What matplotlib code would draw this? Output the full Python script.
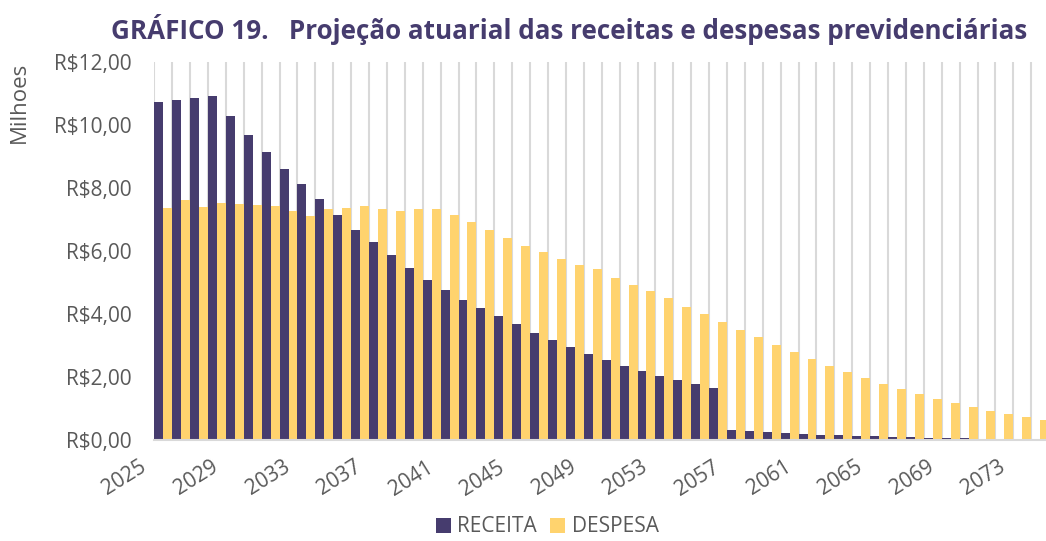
import numpy as np
import matplotlib.pyplot as plt
from matplotlib.transforms import ScaledTranslation

anos = list(range(2025, 2075))

receita = [10.73, 10.78, 10.86, 10.92, 10.29, 9.68, 9.13, 8.61, 8.14, 7.65,
           7.15, 6.68, 6.29, 5.88, 5.46, 5.08, 4.76, 4.45, 4.18, 3.93,
           3.67, 3.41, 3.17, 2.95, 2.73, 2.55, 2.36, 2.19, 2.04, 1.89,
           1.77, 1.64, 0.33, 0.29, 0.25, 0.21, 0.19, 0.17, 0.15, 0.13,
           0.12, 0.10, 0.09, 0.07, 0.06, 0.05, 0.04, 0.03, 0.03, 0.02]

despesa = [7.37, 7.62, 7.40, 7.51, 7.49, 7.47, 7.43, 7.27, 7.12, 7.33,
           7.37, 7.43, 7.33, 7.26, 7.33, 7.33, 7.14, 6.91, 6.67, 6.40,
           6.16, 5.97, 5.75, 5.55, 5.42, 5.15, 4.93, 4.74, 4.50, 4.22,
           4.00, 3.74, 3.49, 3.26, 3.02, 2.80, 2.56, 2.35, 2.16, 1.96,
           1.77, 1.61, 1.45, 1.30, 1.16, 1.04, 0.93, 0.84, 0.74, 0.64]

y_ticks = [0, 2, 4, 6, 8, 10, 12]
y_labels = ['R$0,00', 'R$2,00', 'R$4,00', 'R$6,00', 'R$8,00', 'R$10,00', 'R$12,00']

cor_receita = '#463C6E'
cor_despesa = '#FFD36E'
cinza = '#595959'

plt.rcParams['font.family'] = ['Open Sans', 'DejaVu Sans']

fig = plt.figure(figsize=(10.46, 5.41), dpi=100)
ax = fig.add_axes([0.1475, 0.1867, 0.8555, 0.6987])

x = np.arange(len(anos))
w = 0.5
ax.bar(x - w / 2, receita, width=w, color=cor_receita, label='RECEITA', zorder=3)
ax.bar(x + w / 2, despesa, width=w, color=cor_despesa, label='DESPESA', zorder=3)

ax.set_xlim(-0.5, len(anos) - 0.5)
ax.set_ylim(0, 12)

# linhas de grade verticais nas fronteiras das categorias
for b in np.arange(-0.5, len(anos), 1.0):
    ax.axvline(b, color='#D9D9D9', lw=1.5, zorder=1)

for s in ['top', 'right', 'left']:
    ax.spines[s].set_visible(False)
ax.spines['bottom'].set_color('#D9D9D9')
ax.spines['bottom'].set_linewidth(1.5)
ax.spines['bottom'].set_zorder(4)

ax.set_yticks(y_ticks)
ax.set_yticklabels(y_labels, fontsize=15, color=cinza)
ax.tick_params(axis='y', length=0, pad=16)

pos = x[::4]
ax.set_xticks(pos)
ax.set_xticklabels([str(anos[i]) for i in pos], fontsize=15, color=cinza,
                   rotation=32, ha='right', rotation_mode='anchor')
ax.tick_params(axis='x', length=0, pad=12)
off = ScaledTranslation(-24 / 100, 0, fig.dpi_scale_trans)
for lbl in ax.get_xticklabels():
    lbl.set_transform(lbl.get_transform() + off)

fig.text(0.019, 0.885, 'Milhoes', rotation=90, ha='center', va='top',
         fontsize=16, color=cinza)

fig.text(0.544, 0.945, 'GRÁFICO 19.   Projeção atuarial das receitas e despesas previdenciárias',
         ha='center', va='center', fontsize=18.7, fontweight='bold', color=cor_receita)

fig.legend(loc='center', bbox_to_anchor=(0.523, 0.026), ncol=2,
           frameon=False, fontsize=15, handlelength=0.75, handleheight=0.75,
           handletextpad=0.3, columnspacing=0.6, labelcolor=cinza,
           borderpad=0.1)

fig.savefig('out.png', dpi=100)
